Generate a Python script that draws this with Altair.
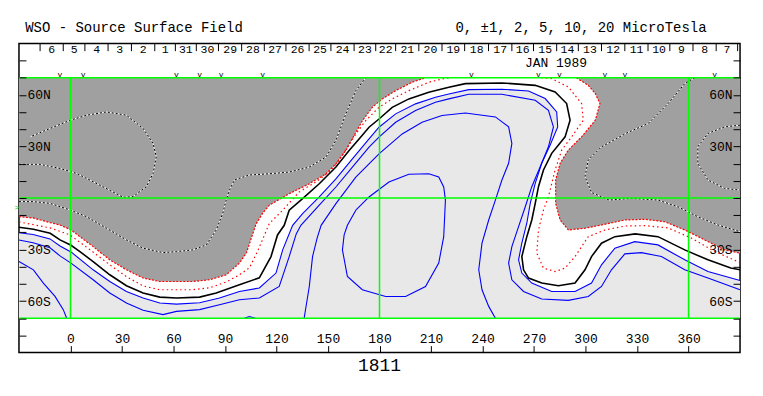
import altair as alt
import pandas as pd

FONT = "Liberation Mono"

# ---------------- data: lon = Carrington longitude (deg), yu = sine-latitude * 7 ----------------
BLACK = [(-30,-1.70),(-21.6,-1.82),(-11.8,-2.05),(-6.1,-2.44),(0.3,-2.75),(5.5,-3.12),(13.2,-3.70),
         (22.9,-4.47),(32.6,-5.11),(42.3,-5.53),(52.0,-5.77),(61.7,-5.82),(75.2,-5.77),(84.9,-5.53),
         (98.4,-5.05),(110.0,-4.65),(116.8,-3.41),(120.6,-2.15),(124.5,-1.59),(127.4,-0.71),(135.2,-0.04),
         (144.9,0.83),(154.6,1.80),(162.3,2.77),(168.1,3.44),(173.9,4.12),(179.7,4.60),(187.4,5.28),
         (197.1,5.77),(208.7,6.16),(220.4,6.45),(230.0,6.66),(251.3,6.70),(270.7,6.56),(282.3,6.17),
         (289.0,5.50),(291.0,4.53),(288.1,3.56),(280.3,2.60),(275.5,1.63),(272.6,0.66),(270.7,-0.31),
         (268.7,-1.28),(265.8,-2.25),(262.9,-3.41),(263.9,-4.18),(266.8,-4.66),(274.5,-4.95),(284.2,-5.11),
         (293.9,-4.95),(299.7,-4.18),(303.5,-3.41),(309.3,-2.63),(317.1,-2.25),(328.9,-2.09),(342.2,-2.25),
         (357.8,-3.02),(371.3,-3.60),(384.6,-4.08),(390,-4.18)]

RED_OUTER_A = [(-30,-1.09),(-21.8,-1.16),(-11.9,-1.43),(-6.1,-1.57),(0.3,-1.86),(13.2,-2.83),(22.9,-3.60),
               (32.6,-4.18),(42.3,-4.66),(52.0,-4.86),(71.3,-4.86),(81.0,-4.76),(90.7,-4.47),(98.4,-3.79),
               (102.5,-3.19),(105.4,-2.32),(108.1,-1.51),(111.9,-0.89),(115.8,-0.42),(127.4,0.25),(139.1,0.83),
               (148.8,1.41),(154.6,1.99),(160.4,2.77),(165.2,3.64),(170.1,4.51),(175.8,5.28),(181.6,5.77),
               (189.4,6.25),(199.0,6.74),(206.8,7.0)]
RED_OUTER_B = [(294.7,7.0),(301.6,6.56),(305.7,6.08),(308.4,5.50),(305.7,4.53),(297.7,3.56),(290.0,2.79),
               (285.2,2.02),(282.6,1.05),(282.6,-0.31),(285.2,-1.28),(290.0,-1.86),(299.7,-1.76),(309.3,-1.57),
               (322.9,-1.28),(334.5,-1.24),(346.1,-1.38),(357.8,-1.86),(369.4,-2.44),(381.0,-3.02),(390,-3.21)]
RED_INNER_A = [(-30,-1.39),(-11.9,-1.74),(-0.3,-2.15),(13.1,-3.14),(22.9,-3.89),(32.8,-4.59),(42.1,-5.11),
               (52.0,-5.34),(71.1,-5.34),(81.0,-5.23),(90.9,-4.88),(98.4,-4.47),(104.2,-4.07),(108.8,-3.14),
               (112.3,-2.32),(115.8,-1.49),(123.6,-0.71),(133.2,0.35),(142.9,0.93),(150.6,1.51),(156.4,2.19),
               (161.3,2.96),(166.2,3.73),(172.0,4.51),(179.7,5.28),(187.4,5.77),(197.1,6.25),(208.7,6.74),
               (216.4,6.93),(221.4,7.0)]
RED_INNER_B = [(274.3,7.0),(280.3,6.95),(290.0,6.46),(297.7,5.50),(298.7,4.53),(291.9,3.56),(286.1,2.79),
               (282.3,1.63),(278.4,0.08),(275.5,-0.70),(272.6,-1.86),(271.6,-3.21),(275.5,-4.08),(282.3,-4.28),
               (288.1,-4.08),(293.9,-3.41),(301.6,-2.25),(311.3,-1.86),(323.1,-1.63),(334.7,-1.61),(348.1,-1.74),
               (361.4,-2.32),(375.4,-3.12),(390,-3.76)]

BLUE1 = [(-30,-2.02),(-21.8,-2.12),(-11.9,-2.38),(-6.1,-2.79),(0.3,-3.14),(13.2,-4.18),(22.9,-4.86),
         (32.6,-5.44),(42.3,-5.82),(52.0,-6.11),(61.7,-6.18),(75.2,-6.10),(86.8,-5.82),(98.4,-5.44),
         (110.0,-5.24),(119.7,-4.37),(123.6,-3.02),(129.4,-1.59),(135.2,-0.91),(144.9,0.06),(154.6,1.12),
         (164.2,2.28),(173.9,3.44),(179.7,4.12),(189.4,4.90),(201.0,5.48),(212.6,5.87),(220.4,6.06),
         (232.0,6.31),(251.3,6.33),(266.8,6.23),(276.5,5.79),(283.2,5.01),(283.8,4.14),(279.4,3.08),
         (274.5,2.02),(270.7,0.85),(267.8,-0.31),(265.8,-1.47),(262.9,-2.63),(261.0,-3.60),(262.9,-4.37),
         (268.7,-4.95),(280.3,-5.44),(293.9,-5.44),(303.5,-4.95),(309.3,-3.89),(317.1,-2.92),(328.7,-2.54),
         (342.2,-2.73),(357.8,-3.60),(371.3,-4.28),(390,-4.80)]
BLUE2 = [(-30,-2.44),(-21.8,-2.61),(-11.9,-2.90),(-6.1,-3.37),(0.3,-3.79),(13.2,-4.76),(22.9,-5.53),
         (32.6,-6.11),(42.3,-6.54),(53.9,-6.79),(61.7,-6.60),(75.2,-6.50),(86.8,-6.21),(98.4,-5.92),
         (110.0,-5.82),(121.6,-5.15),(127.4,-3.41),(131.5,-2.09),(134.2,-1.59),(144.9,-0.42),(154.6,0.64),
         (164.2,1.80),(173.9,2.96),(179.7,3.54),(189.4,4.41),(201.0,5.09),(212.6,5.57),(220.4,5.77),
         (232.0,6.04),(251.3,6.04),(270.7,5.69),(278.4,5.11),(281.3,4.14),(278.4,2.98),(273.6,1.82),
         (268.7,0.66),(264.9,-0.51),(261.0,-1.67),(257.1,-2.83),(255.2,-3.79),(257.1,-4.76),(263.9,-5.44),
         (274.5,-5.88),(290.0,-5.96),(301.6,-5.73),(309.3,-5.15),(315.1,-4.18),(322.9,-3.25),(332.6,-3.18),
         (344.2,-3.41),(357.8,-4.18),(371.3,-4.66),(390,-5.34)]
BLUE3 = [(-30,-3.70),(-21.6,-4.18),(-15.8,-4.96),(-9.0,-5.73),(-4.2,-6.50),(-2.2,-7.0)]
BLUE4 = [(136.1,-7.0),(139.1,-5.15),(141.0,-3.41),(143.7,-2.32),(146.0,-1.59),(154.6,-0.33),(166.2,1.22),
         (179.7,2.57),(193.2,3.73),(204.8,4.41),(216.4,4.80),(230.0,4.95),(247.5,4.72),(255.2,4.14),
         (257.1,3.18),(255.2,2.02),(251.3,1.05),(247.5,-0.12),(243.6,-1.28),(239.7,-2.63),(237.8,-4.18),
         (239.7,-5.34),(243.6,-6.31),(247.5,-7.0)]
BLUE5 = [(166.2,-0.71),(173.9,0.06),(185.5,0.93),(197.1,1.38),(208.7,1.41),(214.5,1.22),(217.4,0.64),
         (218.4,-0.12),(217.4,-2.25),(214.5,-3.79),(206.8,-5.15),(195.2,-5.73),(183.6,-5.73),(170.0,-5.34),
         (161.3,-4.57),(158.4,-3.02),(159.4,-2.15),(161.3,-1.59),(166.2,-0.71)]
BLUE6 = [(101.3,-7.0),(104.2,-6.90),(107.7,-7.0)]

NEG1 = [(-30,1.96),(-17.7,1.96),(-6.1,1.72),(3.6,1.43),(17.1,0.75),(30.7,0.04),(36.5,0.08),(44.2,0.66),
        (48.1,1.43),(50.0,2.40),(48.1,3.18),(42.3,4.05),(32.6,4.82),(21.0,5.01),(9.4,4.82),(-0.1,4.53),
        (-11.9,4.05),(-23.5,3.56)]
NEG2 = [(-30,-0.21),(-21.8,-0.21),(-11.9,-0.31),(-0.1,-0.70),(9.4,-1.09),(21.0,-1.76),(32.6,-2.44),
        (42.3,-2.92),(53.9,-3.18),(61.7,-3.12),(71.3,-3.02),(79.1,-2.73),(84.9,-1.86),(88.7,-0.89),
        (90.7,-0.12),(92.6,0.46),(95.5,1.05),(104.2,1.34),(115.8,1.41),(127.4,1.51),(139.1,1.80),
        (148.8,2.38),(154.6,3.35),(160.4,4.90),(166.2,6.25),(172.0,7.0)]
NEG3 = [(363.6,7.0),(357.8,6.66),(348.1,5.50),(336.5,4.34),(323.7,3.77),(309.3,2.98),(301.6,2.21),
        (299.7,1.24),(303.5,0.32),(313.8,-0.12),(326.6,-0.02),(342.2,-0.12),(353.8,-0.51),(365.4,-1.09),
        (377.0,-1.57),(390,-1.96)]
NEG4 = [(390,4.24),(381.0,4.14),(371.3,3.76),(365.4,2.98),(365.4,2.01),(371.3,1.05),(381.0,0.56),(390,0.46)]

# shaded regions, built from the contours above plus the map edges
LIGHT = [(-30,-7.0)] + BLUE1 + [(390,-7.0)]
DARK_A = RED_OUTER_A + [(-30,7.0)]
DARK_B = RED_OUTER_B + [(390,7.0)]

GRID_LAT = [-7, 0, 7]
GRID_LON = [0, 180, 360]
X_TICKS = [0, 30, 60, 90, 120, 150, 180, 210, 240, 270, 300, 330, 360]
Y_TICKS = [-8, -7, -6, -5, -4, -3, -2, -1, 0, 1, 2, 3, 4, 5, 6, 7, 8]
LAT_LABELS = {6: "60N", 3: "30N", -3: "30S", -6: "60S"}

DAY_TEXT = ["6","5","4","3","2","1","31","30","29","28","27","26","25","24","23","22","21","20",
            "19","18","17","16","15","14","13","12","11","10","9","8","7"]
DAY_LON = [-11.0,2.1,15.2,28.7,42.3,55.1,67.2,79.8,93.0,106.3,119.2,132.3,145.4,158.5,171.5,183.6,
           196.2,209.7,223.0,236.6,250.3,263.4,276.5,289.5,302.6,316.1,329.7,342.8,355.9,369.4,382.4]
DAY_SEP_LON = [-17.7,-4.2,8.4,21.9,35.5,49.1,61.1,73.3,86.2,99.7,112.9,125.5,139.0,151.7,165.2,177.8,
               189.4,202.9,216.4,229.6,243.5,257.1,269.7,283.2,295.8,309.3,322.9,336.4,349.1,362.6,376.1,388.6]
OBS_LON = [-6.1, 7.4, 61.7, 75.2, 87.8, 111.9, 233.5, 272.6, 284.8, 311.3, 322.9, 375.2]

TITLE = "WSO - Source Surface Field"
LEVELS = "0, ±1, 2, 5, 10, 20 MicroTesla"
MONTH = "JAN 1989"
ROTATION = "1811"

# ---------------- chart ----------------
xs = alt.Scale(domain=[-30, 390], nice=False, zero=False)
ys = alt.Scale(domain=[-9, 9], nice=False, zero=False)


def segs_df(segs):
    rows = []
    for s, pts in enumerate(segs):
        for i, (lo, la) in enumerate(pts):
            rows.append({"lon": lo, "yu": la, "seg": s, "i": i})
    return pd.DataFrame(rows)


def path(segs, **mark):
    return alt.Chart(segs_df(segs)).mark_line(**mark).encode(
        x=alt.X("lon:Q", scale=xs, axis=None),
        y=alt.Y("yu:Q", scale=ys, axis=None),
        detail="seg:N",
        order="i:Q",
    )


def texts(lons, yus, labels, **mark):
    df = pd.DataFrame({"lon": lons, "yu": yus, "t": labels})
    return alt.Chart(df).mark_text(font=FONT, color="black", **mark).encode(
        x=alt.X("lon:Q", scale=xs, axis=None),
        y=alt.Y("yu:Q", scale=ys, axis=None),
        text="t:N",
    )


lat_expr = " : ".join(f"datum.value == {k} ? '{v}'" for k, v in LAT_LABELS.items()) + " : ''"
axis_common = dict(domain=False, grid=False, title=None, tickSize=7, offset=-7, tickColor="black",
                   labelColor="black", labelFont=FONT, labelFontSize=13, labelFlush=False,
                   labelOverlap=False, zindex=1)
left_axis = alt.Axis(orient="left", values=Y_TICKS, labelExpr=lat_expr, labelAlign="left",
                     labelPadding=-8, labelBaseline="middle", **axis_common)
right_axis = alt.Axis(orient="right", values=Y_TICKS, labelExpr=lat_expr, labelAlign="right",
                      labelPadding=-8, labelBaseline="middle", **axis_common)
bottom_axis = alt.Axis(orient="bottom", values=X_TICKS, labelPadding=-10, labelBaseline="alphabetic",
                       **axis_common)

light = path([LIGHT], filled=True, fill="#e8e8e8", strokeWidth=0)
dark = path([DARK_A, DARK_B], filled=True, fill="#a0a0a0", strokeWidth=0)

neg_under = path([NEG1, NEG2, NEG3, NEG4], color="white", strokeWidth=1)
neg_over = path([NEG1, NEG2, NEG3, NEG4], color="black", strokeWidth=1, strokeDash=[2, 2])
red_outer = path([RED_OUTER_A, RED_OUTER_B], color="#ff0000", strokeWidth=1.2, strokeDash=[2, 1.5])
red_inner = path([RED_INNER_A, RED_INNER_B], color="#ff0000", strokeWidth=1.2, strokeDash=[1.5, 3])
blue = path([BLUE1, BLUE2, BLUE3, BLUE4, BLUE5, BLUE6], color="#0000ff", strokeWidth=1.1)
black = path([BLACK], color="black", strokeWidth=1.6)

hgrid = alt.Chart(pd.DataFrame({"yu": GRID_LAT, "lon": [-30] * 3, "lon2": [390] * 3})).mark_rule(
    color="#00ff00", strokeWidth=1.5).encode(
    x=alt.X("lon:Q", scale=xs, axis=None), x2="lon2",
    y=alt.Y("yu:Q", scale=ys, axis=left_axis))
vgrid = alt.Chart(pd.DataFrame({"lon": GRID_LON, "y0": [-7] * 3, "y1": [7] * 3})).mark_rule(
    color="#00ff00", strokeWidth=1.5).encode(
    x=alt.X("lon:Q", scale=xs, axis=bottom_axis),
    y=alt.Y("y0:Q", scale=ys, axis=right_axis), y2="y1")

seps = alt.Chart(pd.DataFrame({"lon": DAY_SEP_LON, "a": [9.0] * len(DAY_SEP_LON),
                               "b": [8.55] * len(DAY_SEP_LON)})).mark_rule(
    color="black", strokeWidth=1).encode(
    x=alt.X("lon:Q", scale=xs, axis=None), y=alt.Y("a:Q", scale=ys, axis=None), y2="b")

days = texts(DAY_LON, [8.60] * len(DAY_LON), DAY_TEXT, fontSize=11.5, align="center", baseline="middle")
obs = texts(OBS_LON, [7.15] * len(OBS_LON), ["v"] * len(OBS_LON), fontSize=8, align="center",
            baseline="middle")
month = texts([282.8], [7.86], [MONTH], fontSize=13, align="center", baseline="middle")
title = texts([-26.4], [9.9], [TITLE], fontSize=14, align="left", baseline="middle")
levels = texts([224.2], [9.9], [LEVELS], fontSize=14, align="left", baseline="middle")
rot = texts([180], [-9.76], [ROTATION], fontSize=18, align="center", baseline="middle")
earth = alt.Chart(pd.DataFrame({"lon": [-31.2], "yu": [-0.6], "t": [">"]})).mark_text(
    font=FONT, fontSize=8, color="#00cc00", align="center", baseline="middle").encode(
    x=alt.X("lon:Q", scale=xs, axis=None), y=alt.Y("yu:Q", scale=ys, axis=None), text="t:N")

chart = alt.layer(
    light, dark, neg_under, neg_over, red_outer, red_inner, blue, black,
    hgrid, vgrid, seps, days, obs, month, title, levels, rot, earth,
).resolve_axis(x="independent", y="independent").properties(
    width=723, height=310, autosize="none",
    padding={"left": 11, "top": 35, "right": 15, "bottom": 40},
    background="white",
).configure_view(stroke="black", strokeWidth=1.5)

chart.save("out.html", embed_options={"renderer": "svg", "actions": False})
